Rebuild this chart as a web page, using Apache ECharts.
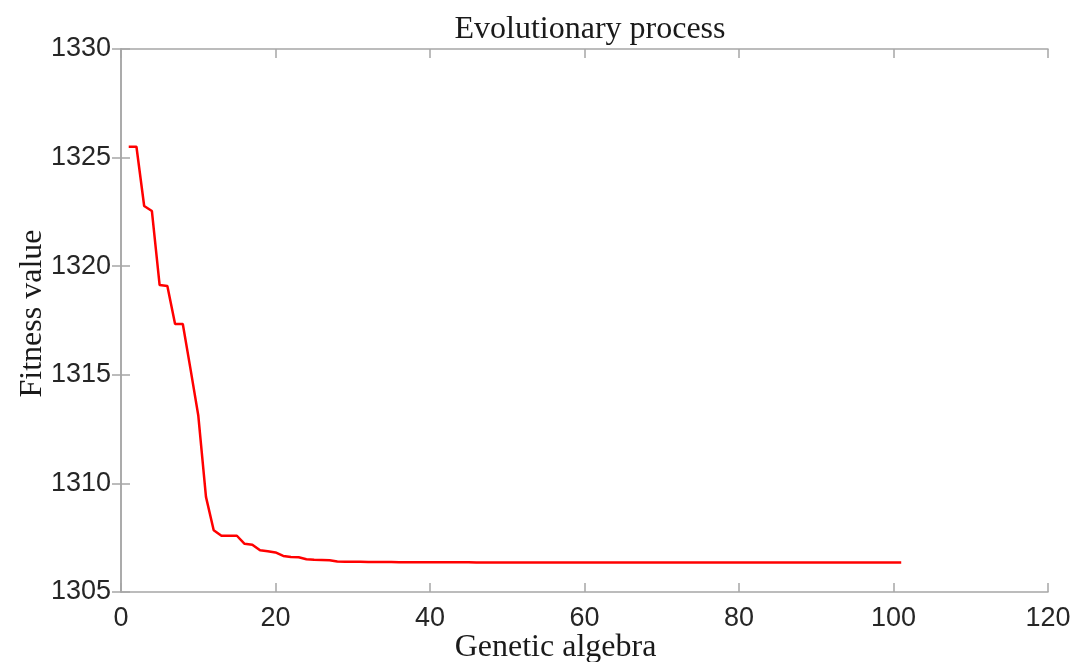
<!DOCTYPE html>
<html>
<head>
<meta charset="utf-8">
<script src="https://cdn.jsdelivr.net/npm/echarts@6/dist/echarts.min.js"></script>
<style>html,body{margin:0;padding:0;background:#fff}#c{width:1089px;height:662px}</style>
</head>
<body>
<div id="c"></div>
<script>
const titleText = 'Evolutionary process';
const xName = 'Genetic algebra';
const yName = 'Fitness value';
const generations = [1,2,3,4,5,6,7,8,9,10,11,12,13,14,15,16,17,18,19,20,21,22,23,24,25,26,27,28,29,30,31,32,33,34,35,36,37,38,39,40,41,42,43,44,45,46,47,48,49,50,51,52,53,54,55,56,57,58,59,60,61,62,63,64,65,66,67,68,69,70,71,72,73,74,75,76,77,78,79,80,81,82,83,84,85,86,87,88,89,90,91,92,93,94,95,96,97,98,99,100,101];
const fitness = [1325.5,1325.5,1322.77,1322.54,1319.13,1319.09,1317.34,1317.34,1315.26,1313.14,
1309.38,1307.84,1307.59,1307.59,1307.59,1307.22,1307.18,1306.92,1306.88,1306.82,
1306.66,1306.61,1306.60,1306.51,1306.48,1306.47,1306.46,1306.40,1306.39,1306.39,
1306.39,1306.38,1306.38,1306.38,1306.38,1306.37,1306.37,1306.37,1306.37,1306.37,
1306.37,1306.37,1306.37,1306.37,1306.37,1306.36,1306.36,1306.36,1306.36,1306.36,
1306.36,1306.36,1306.36,1306.36,1306.36,1306.36,1306.36,1306.36,1306.36,1306.36,
1306.36,1306.36,1306.36,1306.36,1306.36,1306.36,1306.36,1306.36,1306.36,1306.36,
1306.36,1306.36,1306.36,1306.36,1306.36,1306.36,1306.36,1306.36,1306.36,1306.36,
1306.36,1306.36,1306.36,1306.36,1306.36,1306.36,1306.36,1306.36,1306.36,1306.36,
1306.36,1306.36,1306.36,1306.36,1306.36,1306.36,1306.36,1306.36,1306.36,1306.36,
1306.36];

const chart = echarts.init(document.getElementById('c'), null, {renderer:'canvas'});
const axisColor = '#a6a6a6';
const labelStyle = {color:'#262626', fontFamily:'Liberation Sans', fontSize:27};
const nameFont = {color:'#1a1a1a', fontFamily:'Liberation Serif', fontSize:32};

chart.setOption({
  animation:false,
  backgroundColor:'#ffffff',
  title:{text:titleText, left:585, textAlign:'center', top:9,
    textStyle:{color:'#1a1a1a', fontFamily:'Liberation Serif', fontSize:32, fontWeight:'normal'}},
  grid:{left:121, right:41, top:49, bottom:70, show:false, containLabel:false, outerBoundsMode:'none'},
  xAxis:[{
    type:'value', min:0, max:120, interval:20, position:'bottom',
    name:xName, nameLocation:'middle', nameGap:40, nameMoveOverlap:false,
    nameTextStyle:Object.assign({padding:[0,58,0,0]}, nameFont),
    axisLine:{show:true, lineStyle:{color:axisColor, width:1.5}},
    axisTick:{show:true, inside:true, length:9, lineStyle:{color:axisColor, width:1.5}},
    axisLabel:Object.assign({margin:13, formatter:v=>String(v)}, labelStyle),
    splitLine:{show:false}
  },{
    type:'value', min:0, max:120, interval:20, position:'top',
    axisLine:{show:true, lineStyle:{color:axisColor, width:1.5}},
    axisTick:{show:true, inside:true, length:9, lineStyle:{color:axisColor, width:1.5}},
    axisLabel:{show:false}, splitLine:{show:false}
  }],
  yAxis:[{
    type:'value', min:1305, max:1330, interval:5, position:'left',
    name:yName, nameLocation:'middle', nameGap:72, nameRotate:90, nameMoveOverlap:false,
    nameTextStyle:Object.assign({padding:[0,0,0,14]}, nameFont),
    axisLine:{show:true, lineStyle:{color:axisColor, width:1.5}},
    axisTick:{show:true, inside:true, length:9, lineStyle:{color:axisColor, width:1.5}},
    axisLabel:Object.assign({margin:10, padding:[4,0,0,0], formatter:v=>String(v)}, labelStyle),
    splitLine:{show:false}
  },{
    type:'value', min:1305, max:1330, interval:5, position:'right',
    axisLine:{show:true, lineStyle:{color:axisColor, width:1.5}},
    axisTick:{show:true, inside:true, length:9, lineStyle:{color:axisColor, width:1.5}},
    axisLabel:{show:false}, splitLine:{show:false}
  }],
  series:[{
    type:'line', xAxisIndex:0, yAxisIndex:0,
    data:generations.map((g,i)=>[g, fitness[i]]),
    showSymbol:false, symbol:'none',
    lineStyle:{color:'#ff0000', width:2.5}
  }]
});
</script>
</body>
</html>
